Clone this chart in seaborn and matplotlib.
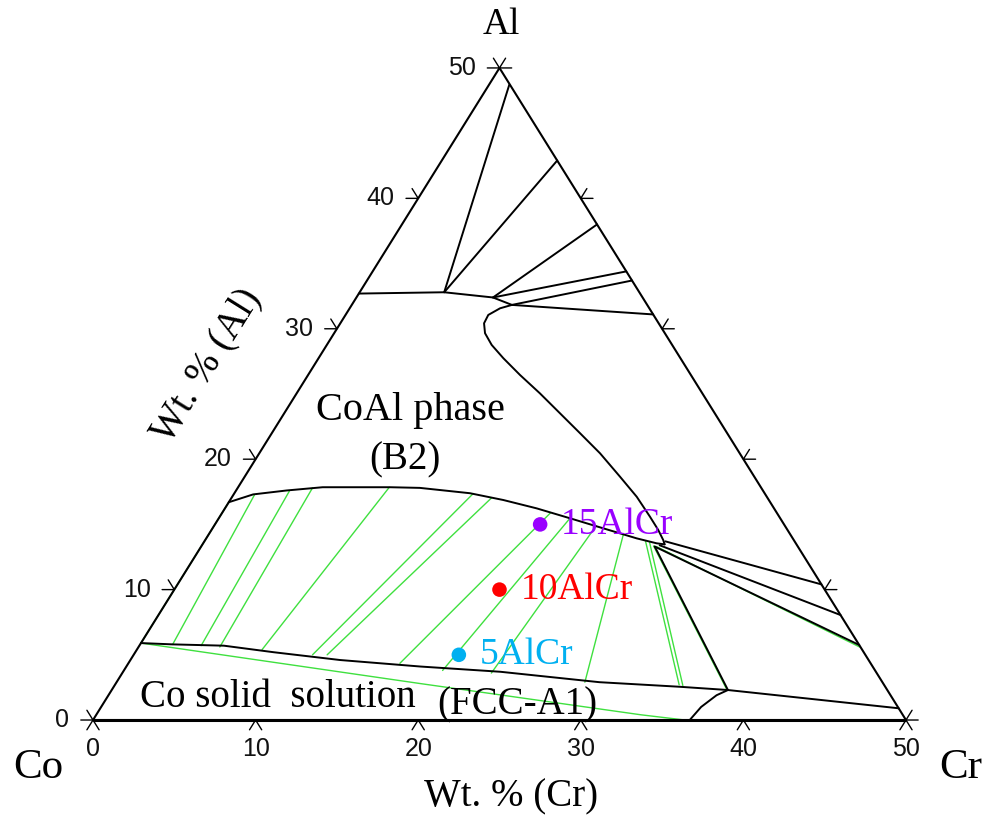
import numpy as np
import pandas as pd
import matplotlib
matplotlib.use("Agg")
import matplotlib.pyplot as plt
import seaborn as sns

# ---------------- data: compositions as (wt.% Cr, wt.% Al) ----------------
# triangle frame corners (Co, Cr, Al)
frame_cr = [0, 50, 0, 0]
frame_al = [0, 0, 50, 0]
tick_values = [0, 10, 20, 30, 40, 50]

# upper boundary of the CoAl (B2) field
b2_top_cr = [0.0, 5.2, 8.4, 9.85, 18.9]
b2_top_al = [32.7, 32.8, 32.4, 31.83, 31.1]

# tie lines of the upper region (start -> end)
top_tie_cr0 = [1.25, 7.1, 12.0, 15.6, 16.3]
top_tie_al0 = [48.7, 42.9, 38.0, 34.4, 33.7]
top_tie_cr1 = [5.2, 5.2, 8.4, 8.4, 9.85]
top_tie_al1 = [32.8, 32.8, 32.4, 32.4, 31.83]

# right boundary of the B2 field
b2_right_cr = [9.85, 9.25, 8.78, 8.84, 9.28, 10.14, 11.37, 13.03, 14.96, 16.96, 18.96,
               20.96, 23.08, 24.88, 26.46, 27.48, 28.17, 28.42]
b2_right_al = [31.83, 31.57, 31.06, 30.42, 29.66, 28.76, 27.74, 26.46, 25.05, 23.52, 21.99,
               20.45, 18.66, 17.12, 15.59, 14.57, 13.80, 13.47]

# lower boundary of the B2 field
b2_low_cr = [0.0, 1.2, 3.1, 5.2, 9.35, 11.2, 14.49, 16.80, 19.17, 21.60, 24.03, 26.47, 27.89, 28.42]
b2_low_al = [16.7, 17.3, 17.6, 17.85, 17.85, 17.8, 17.39, 16.87, 16.23, 15.47, 14.70, 13.93, 13.55, 13.47]

# upper boundary of the Co solid solution (FCC-A1)
fcc_cr = [0.0, 2.0, 5.2, 8.5, 12.9, 18.1, 23.2, 29.7, 34.8, 37.9]
fcc_al = [5.9, 5.8, 5.7, 5.2, 4.6, 4.1, 3.7, 2.9, 2.55, 2.3]

# FCC corner curve down to the Co-Cr side
fcc_corner_cr = [37.9, 37.4, 36.9, 36.7]
fcc_corner_al = [2.3, 1.9, 1.0, 0.0]

# straight black boundaries on the Cr-rich side (start -> end)
right_cr0 = [37.9, 28.35, 28.15, 27.9, 27.9]
right_al0 = [2.3, 13.7, 13.4, 13.3, 13.3]
right_cr1 = [49.1, 39.6, 41.95, 44.25, 37.9]
right_al1 = [0.9, 10.4, 8.05, 5.75, 2.3]

# green tie lines B2 + FCC (start on B2 side -> end on FCC side)
green_cr0 = [0.0, 1.3, 3.3, 4.6, 9.3, 14.7, 16.0, 20.2, 21.6, 23.5, 25.5, 27.1, 27.4, 27.8, 28.0]
green_al0 = [16.7, 17.25, 17.55, 17.8, 17.85, 17.36, 17.05, 15.9, 15.47, 14.87, 14.24, 13.75, 13.65, 13.35, 13.3]
green_cr1 = [0.0, 2.0, 3.8, 5.0, 7.7, 11.0, 11.9, 16.7, 19.6, 22.7, 28.8, 34.7, 34.95, 37.8, 44.35]
green_al1 = [5.9, 5.8, 5.7, 5.6, 5.4, 5.0, 5.0, 4.35, 3.8, 3.6, 2.9, 2.7, 2.65, 2.35, 5.6]

# green line inside the FCC field
green_fcc_cr = [0.0, 18.7, 33.5, 36.4]
green_fcc_al = [5.9, 2.8, 0.4, 0.0]

# alloys
alloy_names = ["15AlCr", "10AlCr", "5AlCr"]
alloy_cr = [20.0, 20.0, 20.0]
alloy_al = [15.0, 10.0, 5.0]
alloy_colors = ["#9900ff", "#ff0000", "#00b0f0"]


def to_xy(cr, al):
    cr = np.asarray(cr, float)
    al = np.asarray(al, float)
    return cr + al / 2.0, al


def curve_df(cr, al, uid=0):
    x, y = to_xy(cr, al)
    return pd.DataFrame({"x": x, "y": y, "seg": uid})


def segs_df(cr0, al0, cr1, al1):
    frames = []
    for i, (a, b, c, d) in enumerate(zip(cr0, al0, cr1, al1)):
        frames.append(curve_df([a, c], [b, d], i))
    return pd.concat(frames, ignore_index=True)


def draw(df, ax, color, lw):
    sns.lineplot(data=df, x="x", y="y", units="seg", estimator=None, sort=False,
                 color=color, linewidth=lw, ax=ax, legend=False)


sns.set_theme(style="white")
plt.rcParams["font.family"] = ["Liberation Serif", "DejaVu Serif"]
plt.rcParams["text.color"] = "black"

fig = plt.figure(figsize=(9.85, 8.22), dpi=100)
ax = fig.add_axes([0, 0, 1, 1])
ax.set_xlim(-5.72, 54.86)
ax.set_ylim(-7.82, 55.21)
ax.axis("off")

GREEN = "#3fe03f"
BLACK = "black"

# green lines first (under black)
draw(segs_df(green_cr0, green_al0, green_cr1, green_al1), ax, GREEN, 1.0)
draw(curve_df(green_fcc_cr, green_fcc_al), ax, GREEN, 1.0)

# frame
draw(curve_df(frame_cr, frame_al), ax, BLACK, 1.5)
xb, yb = to_xy([0, 50], [0, 0])
ax.plot(xb, yb, color=BLACK, lw=2.2, solid_capstyle="butt")

# phase boundaries
draw(curve_df(b2_top_cr, b2_top_al), ax, BLACK, 1.4)
draw(segs_df(top_tie_cr0, top_tie_al0, top_tie_cr1, top_tie_al1), ax, BLACK, 1.4)
draw(curve_df(b2_right_cr, b2_right_al), ax, BLACK, 1.4)
draw(curve_df(b2_low_cr, b2_low_al), ax, BLACK, 1.4)
draw(curve_df(fcc_cr, fcc_al), ax, BLACK, 1.4)
draw(curve_df(fcc_corner_cr, fcc_corner_al), ax, BLACK, 1.4)
draw(segs_df(right_cr0, right_al0, right_cr1, right_al1), ax, BLACK, 1.4)

# ticks (outward, along the directions of the other two axes)
L = 0.75
for v in tick_values:
    x0, y0 = to_xy(v, 0)
    ax.plot([x0 - L / 2, x0, x0 + L / 2], [y0 - L, y0, y0 - L], color=BLACK, lw=1.0)
    x0, y0 = to_xy(0, v)
    ax.plot([x0 - L, x0, x0 - L / 2], [y0, y0, y0 + L], color=BLACK, lw=1.0)
    x0, y0 = to_xy(50 - v, v)
    ax.plot([x0 + L, x0, x0 + L / 2], [y0, y0, y0 + L], color=BLACK, lw=1.0)
    x0, y0 = to_xy(v, 0)
    ax.text(x0, y0 - 2.2, str(v), ha="center", va="center", fontsize=18,
            family=["Liberation Sans", "DejaVu Sans"], color="#111111")
    x0, y0 = to_xy(0, v)
    ax.text(x0 - 1.45, y0, str(v), ha="right", va="center", fontsize=18,
            family=["Liberation Sans", "DejaVu Sans"], color="#111111")

# alloys
ax_x, ax_y = to_xy(alloy_cr, alloy_al)
adf = pd.DataFrame({"x": ax_x, "y": ax_y, "name": alloy_names})
sns.scatterplot(data=adf, x="x", y="y", hue="name", palette=dict(zip(alloy_names, alloy_colors)),
                s=110, edgecolor="none", legend=False, ax=ax, zorder=5)
for n, cr, al, c in zip(alloy_names, alloy_cr, alloy_al, alloy_colors):
    x0, y0 = to_xy(cr, al)
    ax.annotate(n, (x0, y0), xytext=(15, 0), textcoords="offset points",
                ha="left", va="center", fontsize=27, color=c)

# labels
ax.text(25.09, 53.3, "Al", ha="center", va="center", fontsize=27)
ax.text(-3.38, -3.68, "Co", ha="center", va="center", fontsize=31)
ax.text(53.38, -3.68, "Cr", ha="center", va="center", fontsize=31)
ax.text(25.7, -5.9, "Wt. % (Cr)", ha="center", va="center", fontsize=28)
ax.text(7.0, 27.2, "Wt. % (Al)", ha="center", va="center", fontsize=28, rotation=58,
        rotation_mode="anchor")
ax.text(19.5, 23.7, "CoAl phase", ha="center", va="center", fontsize=29)
ax.text(19.19, 19.94, "(B2)", ha="center", va="center", fontsize=28)
ax.text(11.38, 1.76, "Co solid  solution", ha="center", va="center", fontsize=28)
ax.text(26.08, 1.15, "(FCC-A1)", ha="center", va="center", fontsize=28)

fig.savefig("out.png", dpi=100, facecolor="white")
